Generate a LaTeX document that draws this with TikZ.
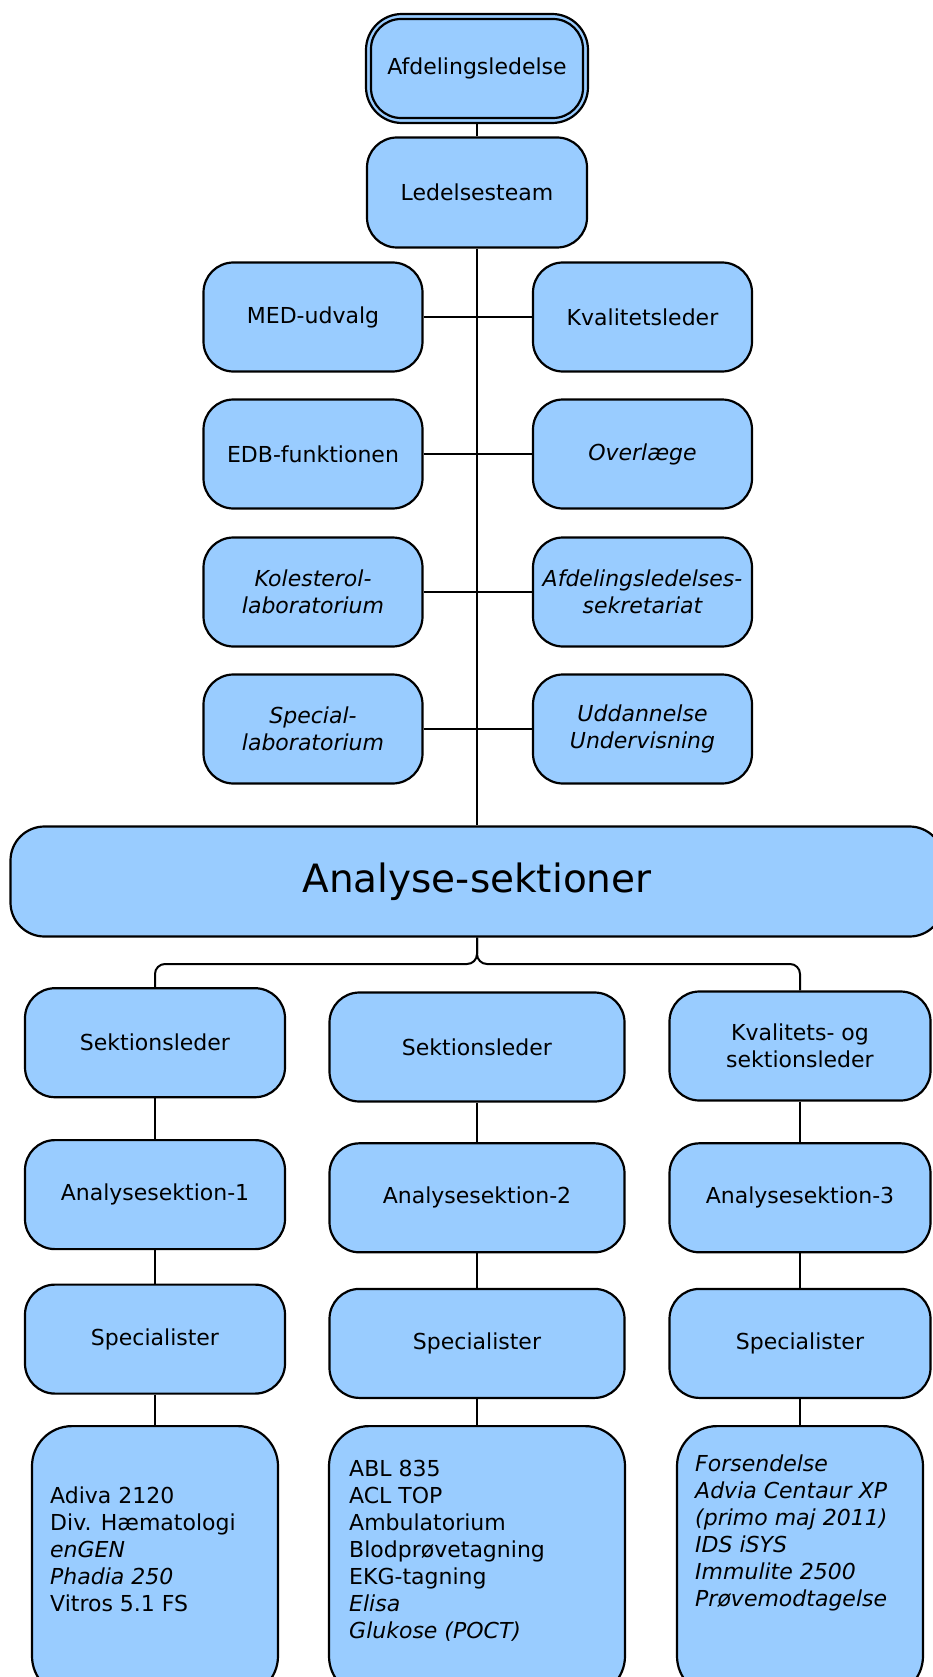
\documentclass[tikz,border=0pt]{standalone}
\usepackage{fontspec}
\setmainfont{DejaVu Sans}
\usetikzlibrary{positioning}
\definecolor{boxblue}{RGB}{153,204,255}
\tikzset{
  box/.style={draw=black, line width=2.2pt, fill=boxblue, rounded corners=30pt,
    inner sep=0pt, align=center, font=\fontsize{22}{27}\selectfont},
  sidebox/.style={box, minimum width=219pt, minimum height=109pt},
  narrowbox/.style={box, minimum width=260pt, minimum height=109pt},
  widebox/.style={box, minimum width=295pt, minimum height=109pt},
  listbox/.style={box, minimum height=270pt, rounded corners=40pt},
  listtext/.style={anchor=west, inner sep=0pt, align=left, font=\fontsize{22}{27}\selectfont},
  link/.style={draw=black, line width=2pt},
}
\begin{document}
\begin{tikzpicture}[x=1pt,y=-1pt]
\useasboundingbox (0,0) rectangle (933,1677);
\clip (0,0) rectangle (933,1677);

% management chain
\node[box, minimum width=222pt, minimum height=109pt, rounded corners=36pt] (afdframe) at (477,68.5) {};
\node[box, minimum width=212pt, minimum height=99pt] (afd) at (477,68.5) {Afdelingsledelse};
\node[box, minimum width=220pt, minimum height=110pt] (led) at (477,192.5) {Ledelsesteam};

% staff functions on both sides of the trunk
\node[sidebox] (med)  at (313,317) {MED-udvalg};
\node[sidebox] (kval) at (642.5,317) {Kvalitetsleder};
\node[sidebox] (edb)  at (313,454) {EDB-funktionen};
\node[sidebox] (over) at (642.5,454) {\itshape Overlæge};
\node[sidebox] (kol)  at (313,592) {\itshape Kolesterol-\\\itshape laboratorium};
\node[sidebox] (sekr) at (642.5,592) {\itshape Afdelingsledelses-\\\itshape sekretariat};
\node[sidebox] (spec) at (313,729) {\itshape Special-\\\itshape laboratorium};
\node[sidebox] (udd)  at (642.5,729) {\itshape Uddannelse\\\itshape Undervisning};

% analysis sections
\node[box, minimum width=933pt, minimum height=110pt, rounded corners=34pt,
      font=\fontsize{39}{45}\selectfont] (analyse) at (477,881.5) {Analyse-sektioner};

% column 1
\node[narrowbox] (sek1) at (155,1042.7) {Sektionsleder};
\node[narrowbox] (as1)  at (155,1194.6) {Analysesektion-1};
\node[narrowbox] (sp1)  at (155,1339.1) {Specialister};
\node[listbox, minimum width=246pt, anchor=north] (list1) at (155,1425) {};
\node[listtext] (txt1) at (50,1549) {Adiva 2120\\Div. Hæmatologi\\\textit{enGEN}\\\textit{Phadia 250}\\Vitros 5.1 FS};

% column 2
\node[widebox] (sek2) at (477,1047) {Sektionsleder};
\node[widebox] (as2)  at (477,1197.8) {Analysesektion-2};
\node[widebox] (sp2)  at (477,1343.4) {Specialister};
\node[listbox, minimum width=296pt, anchor=north] (list2) at (477,1425) {};
\node[listtext] (txt2) at (349,1551) {ABL 835\\ACL TOP\\Ambulatorium\\Blodprøvetagning\\EKG-tagning\\\textit{Elisa}\\\textit{Glukose (POCT)}};

% column 3
\node[narrowbox, minimum width=261pt] (sek3) at (800,1046) {Kvalitets- og\\sektionsleder};
\node[narrowbox, minimum width=261pt] (as3)  at (800,1197.8) {Analysesektion-3};
\node[narrowbox, minimum width=261pt] (sp3)  at (800,1343.4) {Specialister};
\node[listbox, minimum width=246pt, anchor=north] (list3) at (800,1425) {};
\node[listtext] (txt3) at (695,1533) {\itshape Forsendelse\\\itshape Advia Centaur XP\\\itshape (primo maj 2011)\\\itshape IDS iSYS\\\itshape Immulite 2500\\\itshape Prøvemodtagelse};

% connectors
\draw[link] (afdframe.south) -- (led.north);
\draw[link] (led.south) -- (analyse.north);
\draw[link] (med.east) -- (kval.west);
\draw[link] (edb.east) -- (over.west);
\draw[link] (kol.east) -- (sekr.west);
\draw[link] (spec.east) -- (udd.west);

\coordinate (bus) at (477,964);
\draw[link, rounded corners=10pt] (analyse.south) -- (bus) -| (sek1.north);
\draw[link, rounded corners=10pt] (analyse.south) -- (bus) -| (sek3.north);

\draw[link] (sek1.south) -- (as1.north);
\draw[link] (as1.south) -- (sp1.north);
\draw[link] (sp1.south) -- (list1.north);
\draw[link] (sek2.south) -- (as2.north);
\draw[link] (as2.south) -- (sp2.north);
\draw[link] (sp2.south) -- (list2.north);
\draw[link] (sek3.south) -- (as3.north);
\draw[link] (as3.south) -- (sp3.north);
\draw[link] (sp3.south) -- (list3.north);
\end{tikzpicture}
\end{document}
